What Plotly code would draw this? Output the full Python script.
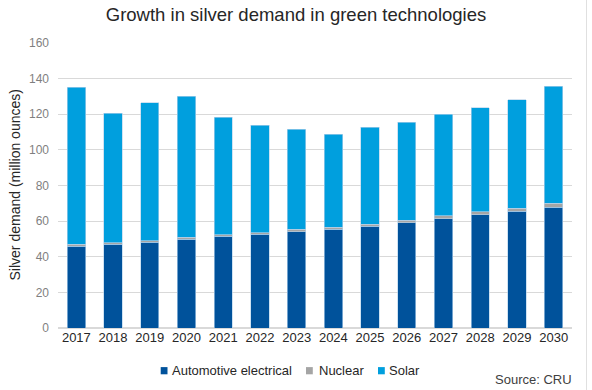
import plotly.graph_objects as go

years = [str(y) for y in range(2017, 2031)]
automotive = [45.9, 46.9, 48.2, 49.9, 51.4, 52.5, 54.0, 55.5, 57.0, 59.0, 61.2, 63.5, 65.5, 67.8]
nuclear = [1.1, 0.9, 0.9, 1.1, 0.9, 1.1, 1.4, 1.0, 1.3, 1.5, 1.8, 1.9, 1.7, 2.1]
totals = [135.2, 120.6, 126.4, 130.0, 118.4, 113.7, 111.5, 108.7, 112.8, 115.6, 119.9, 123.6, 128.1, 135.6]
solar = [round(t - a - n, 1) for t, a, n in zip(totals, automotive, nuclear)]
series_names = ["Automotive electrical", "Nuclear", "Solar"]
series_colors = ["#00529B", "#A5A5A5", "#009FDE"]

W, H = 592, 390
L, R, T, B = 58, 20, 43, 62
pw, ph = W - L - R, H - T - B


def px(x):
    return (x - L) / pw


def py(y):
    return (H - B - y) / ph


fig = go.Figure()
for name, vals, col in zip(series_names, [automotive, nuclear, solar], series_colors):
    fig.add_trace(go.Bar(x=years, y=vals, name=name, marker_color=col, showlegend=False,
                         marker_line=dict(color="rgba(180,210,235,0.8)", width=0.8)))

fig.update_layout(
    barmode="stack", bargap=0.5,
    width=W, height=H,
    margin=dict(l=L, r=R, t=T, b=B),
    paper_bgcolor="white", plot_bgcolor="white",
    font=dict(family="Liberation Sans, Arial, sans-serif", color="#404040"),
    title=dict(text="Growth in silver demand in green technologies", x=0.5, xanchor="center",
               y=1 - 15 / H, yanchor="middle", font=dict(size=18.5, color="#262626")),
)
fig.update_xaxes(type="category", showline=False, ticks="", automargin=False,
                 tickfont=dict(size=13, color="#262626"))
fig.update_yaxes(range=[0, 160], dtick=20, showgrid=True, gridcolor="#D9D9D9", gridwidth=1,
                 zeroline=True, zerolinecolor="#D9D9D9", ticks="", automargin=False,
                 tickfont=dict(size=12, color="#7F7F7F"), ticklabelstandoff=8)
# y-axis title
fig.add_annotation(text="Silver demand (million ounces)", xref="paper", yref="paper",
                   x=px(14), y=0.5, xanchor="center", yanchor="middle", textangle=-90,
                   showarrow=False, font=dict(size=14, color="#262626"))
# legend drawn as swatches + text
swatch_x = [160.7, 306, 378]
text_x = [169.5, 316.5, 387]
ly = 370.7
for name, col, sx, tx in zip(series_names, series_colors, swatch_x, text_x):
    fig.add_shape(type="rect", xref="paper", yref="paper", x0=px(sx), x1=px(sx + 6.8),
                  y0=py(ly + 3.6), y1=py(ly - 3.6), fillcolor=col, line=dict(width=0))
    fig.add_annotation(text=name, xref="paper", yref="paper",
                       x=px(tx), y=py(ly), xanchor="left", yanchor="middle", showarrow=False,
                       font=dict(size=13, color="#262626"))
fig.add_annotation(text="Source: CRU", xref="paper", yref="paper", x=px(574), y=py(379),
                   xanchor="right", yanchor="middle", showarrow=False,
                   font=dict(size=13, color="#404040"))
# faint frame edge on the right
fig.add_shape(type="line", xref="paper", yref="paper", x0=px(586.5), x1=px(586.5),
              y0=py(H), y1=py(0), line=dict(color="#E0E0E0", width=1))
fig.write_html("out.html", config={"displayModeBar": False},
               post_script="document.body.style.margin='0';document.body.style.overflow='hidden';")
